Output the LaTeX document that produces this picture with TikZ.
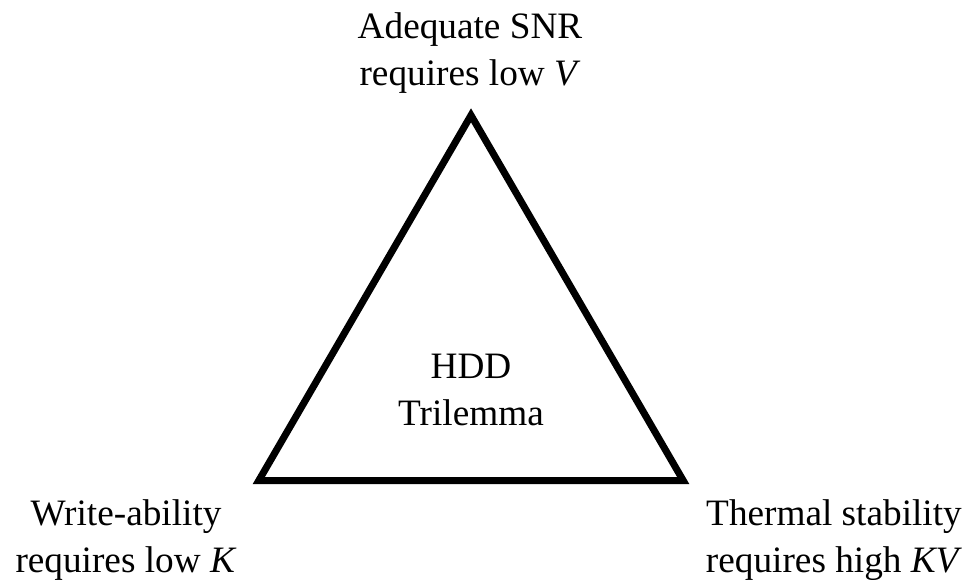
\documentclass[tikz,border=0pt]{standalone}
\usepackage{fontspec}
\setmainfont{Liberation Serif}
\usetikzlibrary{positioning}

\begin{document}
\begin{tikzpicture}[
  lema/.style={align=center,anchor=base,inner sep=0pt,font=\fontsize{10.6}{13.1}\selectfont}
  ]

  \useasboundingbox (0,0) rectangle (9.62,5.79);

  \coordinate (snr) at (4.71,4.637);
  \coordinate (wr) at (2.588,0.985);
  \coordinate (th) at (6.832,0.985);
  \draw[line width=2pt] (snr) -- (wr) -- (th) -- cycle;

  \node[lema] (hdd) at (4.71,1.54) {HDD\\Trilemma};
  \node[lema] (top) at (4.70,4.94) {Adequate SNR\\requires low \textit{V}};
  \node[lema] (izq) at (1.26,0.07) {Write-ability\\requires low \textit{K}};
  \node[lema] (der) at (8.34,0.07) {Thermal stability\\requires high \textit{KV}};

\end{tikzpicture}
\end{document}
